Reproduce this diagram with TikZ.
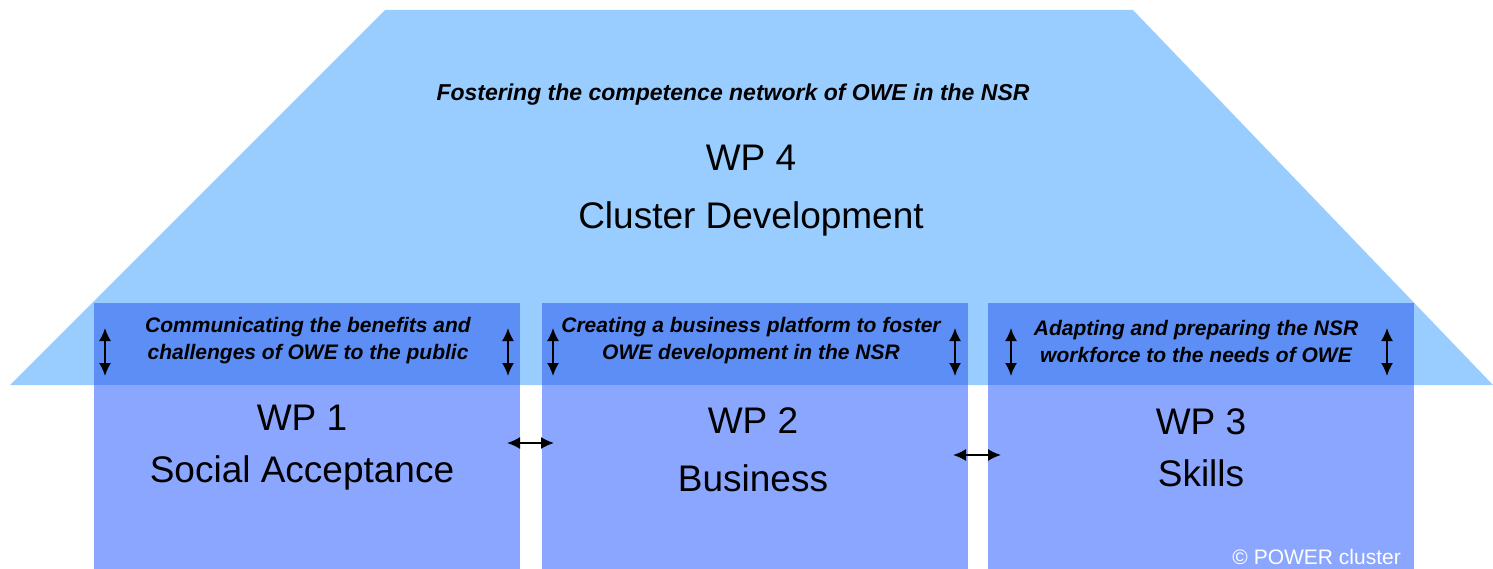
\documentclass[tikz,border=0pt]{standalone}
\usepackage{fontspec}
\setmainfont{Liberation Sans}
\usetikzlibrary{positioning,arrows.meta}

\definecolor{roofblue}{RGB}{153,204,255}
\definecolor{wpblue}{RGB}{138,166,255}
\definecolor{bandblue}{RGB}{92,142,246}

\tikzset{
    wpbox/.style={fill=wpblue, minimum width=426pt, minimum height=266pt, inner sep=0pt},
    band/.style={fill=bandblue, minimum width=426pt, minimum height=82pt, inner sep=0pt},
    goal/.style={font=\fontsize{21}{27}\selectfont\bfseries\itshape, align=center, inner sep=0pt},
    wptitle/.style={font=\fontsize{37}{52}\selectfont, align=center, inner sep=0pt},
    link/.style={{Latex[length=13pt,width=12pt]}-{Latex[length=13pt,width=12pt]}, line width=1.8pt},
}

\begin{document}
\begin{tikzpicture}[x=1pt, y=-1pt]
    \useasboundingbox (0,0) rectangle (1493,569);

    % roof: WP 4
    \fill[roofblue] (385,10) -- (1133,10) -- (1493,385) -- (10,385) -- cycle;
    \node[goal] (g4) at (733,95) {\fontsize{23}{27}\selectfont Fostering the competence network of OWE in the NSR};
    \node[wptitle, font=\fontsize{37}{58}\selectfont] (t4) at (751,191) {WP 4\\Cluster Development};

    % pillars
    \node[wpbox] (wp1) at (307,436) {};
    \node[wpbox] (wp2) at (754.5,436) {};
    \node[wpbox] (wp3) at (1201,436) {};

    \node[band] (b1) at (307,344) {};
    \node[band] (b2) at (754.5,344) {};
    \node[band] (b3) at (1201,344) {};

    \node[goal] (g1) at (308,341) {Communicating the benefits and\\challenges of OWE to the public};
    \node[goal] (g2) at (751,341) {Creating a business platform to foster\\OWE development in the NSR};
    \node[goal] (g3) at (1196,341) {Adapting and preparing the NSR\\workforce to the needs of OWE};

    \node[wptitle] (t1) at (302,448) {WP 1\\Social Acceptance};
    \node[wptitle, font=\fontsize{37}{58}\selectfont] (t2) at (753,450) {WP 2\\Business};
    \node[wptitle] (t3) at (1201,448) {WP 3\\Skills};

    % arrows
    \foreach \x [count=\i] in {105,508,553,955,1011,1387} {
        \coordinate (up\i) at (\x,328);
        \coordinate (dn\i) at (\x,376);
        \draw[link] (up\i) -- (dn\i);
    }

    \coordinate (l12) at (507,443);
    \coordinate (r12) at (554,443);
    \coordinate (l23) at (953,455);
    \coordinate (r23) at (1001,455);
    \draw[link] (l12) -- (r12);
    \draw[link] (l23) -- (r23);

    \node[anchor=east, text=white, font=\fontsize{21}{21}\selectfont, inner sep=0pt] (copy) at (1401,557) {© POWER cluster};
\end{tikzpicture}
\end{document}
